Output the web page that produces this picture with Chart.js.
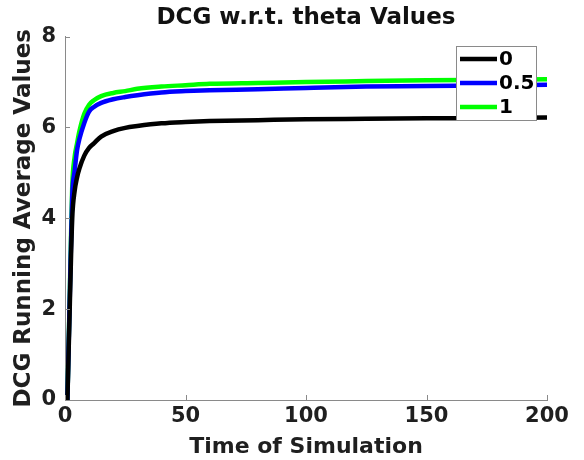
<html>
<head>
<title>DCG w.r.t. theta Values</title>
<script src="https://cdn.jsdelivr.net/npm/chart.js@4.4.1/dist/chart.umd.min.js"></script>
<style>
    body { margin: 0; background: white; }
    #wrap { width: 584px; height: 460px; }
</style>
</head>
<body>
<div id="wrap"><canvas id="dcgChart" width="584" height="460"></canvas></div>
<script>
    // values (time step -> running average)
    var timeSteps = [1, 2, 3, 4, 5, 6, 8, 10, 12, 15, 20, 25, 30, 40, 50, 60, 80, 100, 125, 150, 175, 200];
    var theta0 = [0, 2.1, 4.0, 4.6, 4.9, 5.1, 5.38, 5.55, 5.65, 5.8, 5.92, 5.99, 6.03, 6.09, 6.12, 6.14, 6.16, 6.18, 6.19, 6.2, 6.21, 6.22];
    var theta05 = [0, 2.3, 4.5, 5.04, 5.5, 5.75, 6.1, 6.35, 6.45, 6.54, 6.62, 6.67, 6.71, 6.77, 6.8, 6.82, 6.84, 6.87, 6.9, 6.91, 6.93, 6.94];
    var theta1 = [0, 2.4, 4.7, 5.35, 5.65, 5.92, 6.3, 6.5, 6.6, 6.69, 6.76, 6.8, 6.85, 6.9, 6.93, 6.96, 6.98, 7.0, 7.02, 7.04, 7.05, 7.06];
    var seriesLabels = ['0', '0.5', '1'];
    var seriesColors = ['#000000', '#0000ff', '#00ff00'];
    var xTicks = [0, 50, 100, 150, 200];
    var yTicks = [0, 2, 4, 6, 8];

    function toPoints(ys) {
        var pts = [];
        for (var i = 0; i < timeSteps.length; i++) {
            pts.push({x: timeSteps[i], y: ys[i]});
        }
        return pts;
    }

    var allSeries = [theta0, theta05, theta1];
    var datasets = [];
    for (var s = 0; s < allSeries.length; s++) {
        datasets.push({
            label: seriesLabels[s],
            data: toPoints(allSeries[s]),
            borderColor: seriesColors[s],
            borderWidth: 4.5,
            pointRadius: 0,
            fill: false,
            cubicInterpolationMode: 'monotone'
        });
    }

    var textColor = '#1f1f1f';
    var axisColor = '#8a8a8a';
    var fontFamily = '"DejaVu Sans", Verdana, sans-serif';
    var boldFont = function (size) {
        return {family: fontFamily, size: size, weight: 'bold'};
    };

    // small inward tick marks, MATLAB style
    var innerTicks = {
        id: 'innerTicks',
        afterDraw: function (chart) {
            var ctx = chart.ctx;
            var area = chart.chartArea;
            var xs = chart.scales.x, ys = chart.scales.y;
            ctx.save();
            ctx.strokeStyle = axisColor;
            ctx.lineWidth = 1;
            ctx.beginPath();
            for (var i = 0; i < xTicks.length; i++) {
                var px = Math.round(xs.getPixelForValue(xTicks[i])) + 0.5;
                ctx.moveTo(px, area.bottom);
                ctx.lineTo(px, area.bottom - 5);
            }
            for (var j = 0; j < yTicks.length; j++) {
                var py = Math.round(ys.getPixelForValue(yTicks[j])) + 0.5;
                ctx.moveTo(area.left, py);
                ctx.lineTo(area.left + 5, py);
            }
            ctx.stroke();
            ctx.restore();
        }
    };

    // legend box inside the plot, upper right
    var boxLegend = {
        id: 'boxLegend',
        afterDraw: function (chart) {
            var ctx = chart.ctx;
            var left = 456, top = 46, w = 80, h = 74;
            ctx.save();
            ctx.fillStyle = '#ffffff';
            ctx.fillRect(left, top, w, h);
            ctx.strokeStyle = axisColor;
            ctx.lineWidth = 1;
            ctx.strokeRect(left + 0.5, top + 0.5, w, h);
            ctx.font = 'bold 20px ' + fontFamily;
            ctx.textBaseline = 'middle';
            var dsets = chart.data.datasets;
            for (var i = 0; i < dsets.length; i++) {
                var y = top + 13 + i * 24;
                ctx.strokeStyle = dsets[i].borderColor;
                ctx.lineWidth = 4.5;
                ctx.beginPath();
                ctx.moveTo(460, y);
                ctx.lineTo(497, y);
                ctx.stroke();
                ctx.fillStyle = '#000000';
                ctx.fillText(dsets[i].label, 499, y + 1);
            }
            ctx.restore();
        }
    };

    new Chart(document.getElementById('dcgChart'), {
        type: 'line',
        data: {datasets: datasets},
        plugins: [innerTicks, boxLegend],
        options: {
            responsive: false,
            animation: false,
            layout: {padding: {left: 10, right: 37, top: 0, bottom: 0}},
            plugins: {
                legend: {display: false},
                tooltip: {enabled: false},
                title: {
                    display: true,
                    fullSize: false,
                    text: 'DCG w.r.t. theta Values',
                    color: '#111111',
                    font: boldFont(23),
                    padding: {top: 4, bottom: 5}
                }
            },
            scales: {
                x: {
                    type: 'linear',
                    min: 0,
                    max: 200,
                    afterFit: function (scale) { scale.height = 60; },
                    afterBuildTicks: function (scale) {
                        scale.ticks = xTicks.map(function (v) { return {value: v}; });
                    },
                    grid: {drawOnChartArea: false, drawTicks: false},
                    border: {color: axisColor, width: 1},
                    ticks: {color: textColor, font: boldFont(21), padding: 4, maxRotation: 0},
                    title: {
                        display: true,
                        text: 'Time of Simulation',
                        color: textColor,
                        font: boldFont(22),
                        padding: {top: 0, bottom: 0}
                    }
                },
                y: {
                    min: 0,
                    max: 8,
                    afterFit: function (scale) { scale.width = 55; },
                    afterBuildTicks: function (scale) {
                        scale.ticks = yTicks.map(function (v) { return {value: v}; });
                    },
                    grid: {drawOnChartArea: false, drawTicks: false},
                    border: {color: axisColor, width: 1},
                    ticks: {color: textColor, font: boldFont(21), padding: 9},
                    title: {
                        display: true,
                        text: 'DCG Running Average Values',
                        color: textColor,
                        font: boldFont(23),
                        padding: {top: 0, bottom: 0}
                    }
                }
            }
        }
    });
</script>
</body>
</html>
